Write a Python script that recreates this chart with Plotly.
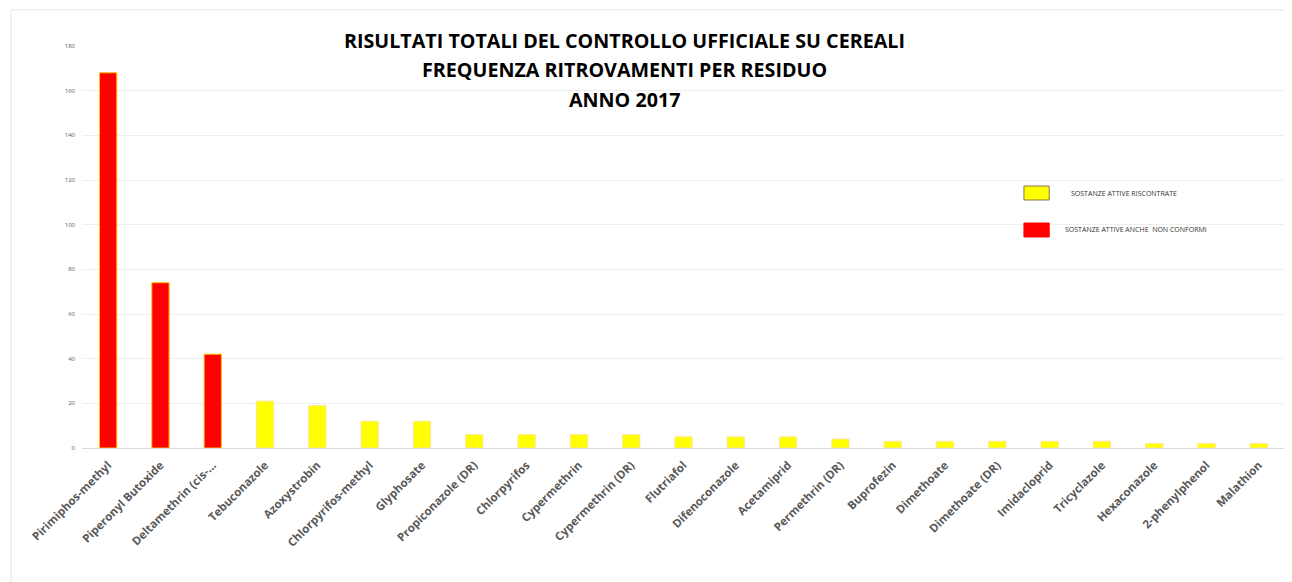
import plotly.graph_objects as go

residui = ["Pirimiphos-methyl", "Piperonyl Butoxide", "Deltamethrin (cis-...",
           "Tebuconazole", "Azoxystrobin", "Chlorpyrifos-methyl", "Glyphosate",
           "Propiconazole (DR)", "Chlorpyrifos", "Cypermethrin", "Cypermethrin (DR)",
           "Flutriafol", "Difenoconazole", "Acetamiprid", "Permethrin (DR)",
           "Buprofezin", "Dimethoate", "Dimethoate (DR)", "Imidacloprid",
           "Tricyclazole", "Hexaconazole", "2-phenylphenol", "Malathion"]
ritrovamenti = [168, 74, 42, 21, 19, 12, 12, 6, 6, 6, 6, 5, 5, 5, 4, 3, 3, 3, 3, 3, 2, 2, 2]
non_conformi = [True, True, True] + [False] * 20

y_ticks = [0, 20, 40, 60, 80, 100, 120, 140, 160, 180]

RED = "#FF0000"
YELLOW = "#FFFF00"
FONT = "Open Sans"

colors = [RED if nc else YELLOW for nc in non_conformi]
outlines = ["#FFC000" if nc else "#FFE699" for nc in non_conformi]

fig = go.Figure()
fig.add_trace(go.Bar(
    x=residui, y=ritrovamenti,
    marker=dict(color=colors, line=dict(color=outlines, width=1)),
    width=0.33, showlegend=False,
))

# page body has an 8px margin, so the figure is a bit smaller than the window
fig.update_layout(
    width=1284, height=574,
    margin=dict(l=74, r=7, t=38, b=134),
    paper_bgcolor="white", plot_bgcolor="white",
    font=dict(family=FONT),
    bargap=0.67,
)
fig.update_xaxes(
    tickangle=-45, tickfont=dict(size=11.5, color="#595959", family=FONT, weight="bold"),
    showline=True, linecolor="#D9D9D9", linewidth=1, ticks="", showgrid=False,
    ticklabelstandoff=5, automargin=False,
)
fig.update_yaxes(
    range=[0, 180], tickvals=y_ticks, tickfont=dict(size=6, color="#595959"),
    showgrid=True, gridcolor="#EEEEEE", gridwidth=1, zeroline=False, ticks="",
    ticklabelstandoff=6, automargin=False,
)

# chart area border
fig.add_shape(type="rect", xref="paper", yref="paper", x0=-0.059, x1=1.05,
              y0=-0.6, y1=1.0896, line=dict(color="#E3E3E3", width=1), layer="below")

titoli = ["RISULTATI TOTALI DEL CONTROLLO UFFICIALE SU CEREALI",
          "FREQUENZA RITROVAMENTI PER RESIDUO", "ANNO 2017"]
for testo, yy in zip(titoli, [1.0149, 0.9403, 0.868]):
    fig.add_annotation(text=testo, xref="paper", yref="paper", x=0.451, y=yy,
                       showarrow=False, font=dict(size=19.7, color="black", family=FONT, weight="bold"),
                       xanchor="center", yanchor="middle")

# legend
legenda = [("SOSTANZE ATTIVE RISCONTRATE", YELLOW, "#8B7355", 0.6517, 0.6169, 0.8205),
           ("SOSTANZE ATTIVE ANCHE  NON CONFORMI", RED, RED, 0.5597, 0.5249, 0.8155)]
for testo, col, bordo, ya, yb, xt in legenda:
    fig.add_shape(type="rect", xref="paper", yref="paper", x0=0.783, x1=0.804,
                  y0=yb, y1=ya, fillcolor=col, line=dict(color=bordo, width=1))
    fig.add_annotation(text=testo, xref="paper", yref="paper", x=xt, y=(ya + yb) / 2,
                       showarrow=False, xanchor="left", yanchor="middle",
                       font=dict(size=7, color="#333333", family=FONT))

fig.write_html("out.html")
